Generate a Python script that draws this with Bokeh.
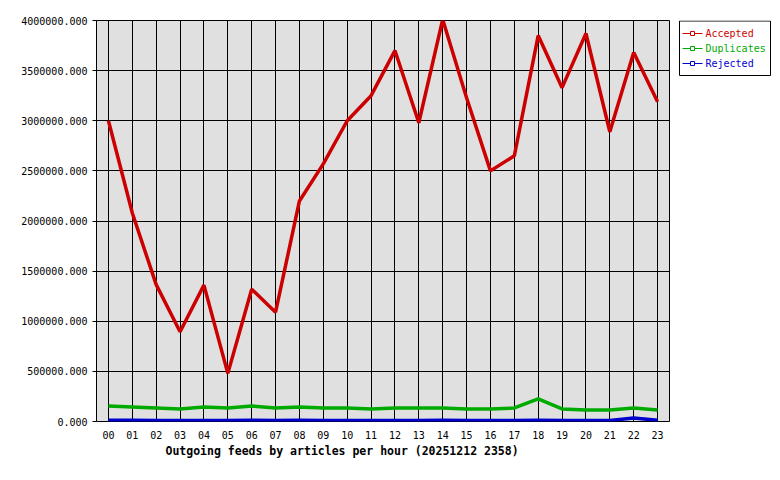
from bokeh.plotting import figure
from bokeh.layouts import row
from bokeh.models import Range1d, FixedTicker, PrintfTickFormatter, Title
from bokeh.core.properties import value
from bokeh.embed import file_html
from bokeh.resources import INLINE

hours = ["00", "01", "02", "03", "04", "05", "06", "07", "08", "09", "10", "11",
         "12", "13", "14", "15", "16", "17", "18", "19", "20", "21", "22", "23"]
accepted = [3000000, 2080000, 1365000, 895000, 1360000, 480000, 1320000, 1090000,
            2200000, 2570000, 3000000, 3250000, 3700000, 2980000, 4010000, 3230000,
            2500000, 2650000, 3850000, 3330000, 3870000, 2890000, 3680000, 3190000]
duplicates = [155000, 145000, 135000, 125000, 145000, 135000, 155000, 135000,
              145000, 135000, 135000, 125000, 135000, 135000, 135000, 125000,
              125000, 135000, 225000, 125000, 115000, 115000, 135000, 115000]
rejected = [12000, 12000, 11000, 10000, 11000, 10000, 12000, 11000,
            12000, 11000, 11000, 10000, 11000, 11000, 12000, 10000,
            10000, 11000, 12000, 10000, 10000, 10000, 35000, 12000]
series_names = ["Accepted", "Duplicates", "Rejected"]
series_colors = ["#cc0000", "#00aa00", "#0000cc"]
y_ticks = [0, 500000, 1000000, 1500000, 2000000, 2500000, 3000000, 3500000, 4000000]
title_text = "Outgoing feeds by articles per hour (20251212 2358)"

FONT = "DejaVu Sans Mono"
H = 472
TOP, BOTTOM = 20, 421
xs = list(range(len(hours)))

p = figure(width=675, height=H, output_backend="svg", toolbar_location=None,
           x_range=Range1d(-0.5, 23.5), y_range=Range1d(0, 4000000),
           min_border_left=96, min_border_right=6, min_border_top=TOP,
           min_border_bottom=H - BOTTOM)
p.background_fill_color = "#e0e0e0"
p.border_fill_color = "white"
p.outline_line_color = "black"
p.outline_line_width = 1

p.xgrid.ticker = FixedTicker(ticks=xs)
p.ygrid.ticker = FixedTicker(ticks=y_ticks)
for g in (p.xgrid, p.ygrid):
    g.grid_line_color = "black"
    g.grid_line_width = 1
    g.grid_line_alpha = 1

p.xaxis.ticker = FixedTicker(ticks=xs)
p.xaxis.major_label_overrides = {i: h for i, h in enumerate(hours)}
p.xaxis.major_tick_out = 0
p.xaxis.major_tick_in = 0
p.xaxis.minor_tick_out = 0
p.xaxis.minor_tick_in = 0
p.xaxis.axis_line_color = None
p.xaxis.major_label_standoff = 9

p.yaxis.ticker = FixedTicker(ticks=y_ticks)
p.yaxis.formatter = PrintfTickFormatter(format="%.3f")
p.yaxis.major_tick_out = 4
p.yaxis.major_tick_in = 0
p.yaxis.minor_tick_out = 0
p.yaxis.minor_tick_in = 0
p.yaxis.axis_line_color = None
p.yaxis.major_tick_line_color = "black"
p.yaxis.major_label_standoff = 5

for ax in (p.xaxis, p.yaxis):
    ax.major_label_text_font = FONT
    ax.major_label_text_font_size = "10px"
    ax.major_label_text_color = "black"

series = [accepted, duplicates, rejected]
for vals, col in zip(series[::-1], series_colors[::-1]):
    p.line(xs, vals, line_color=col, line_width=3.5)

t = Title(text=title_text, align="left", offset=69, text_font=FONT,
          text_font_size="11.5px", text_font_style="bold", text_color="black",
          standoff=1)
p.add_layout(t, "below")

# legend panel: a small companion figure whose frame is aligned with the main one;
# its ranges are set so that one unit equals one screen pixel
LX0 = 675
lg = figure(width=772 - LX0, height=H, output_backend="svg", toolbar_location=None,
            x_range=Range1d(LX0, 772), y_range=Range1d(BOTTOM, TOP),
            min_border_left=0, min_border_right=0, min_border_top=TOP,
            min_border_bottom=H - BOTTOM, x_axis_type=None, y_axis_type=None)
lg.grid.visible = False
lg.outline_line_color = None
lg.background_fill_color = "white"
lg.border_fill_color = "white"

lg.quad(left=[679], right=[770], top=[20.5], bottom=[75],
        fill_color="white", line_color="black", line_width=1)
row_y = [33 + 15 * i for i in range(len(series_names))]
lg.segment(x0=[682] * 3, x1=[702] * 3, y0=row_y, y1=row_y,
           line_color=series_colors, line_width=1)
lg.scatter(x=[692] * 3, y=row_y, marker="square", size=4,
           line_color=series_colors, fill_color="white", line_width=1)
lg.text(x=[705] * 3, y=row_y, text=series_names, text_color=series_colors,
        text_font=value(FONT), text_font_size="10px", text_baseline="middle",
        text_align="left")

layout = row(p, lg)
open("out.html", "w").write(file_html(layout, INLINE))
